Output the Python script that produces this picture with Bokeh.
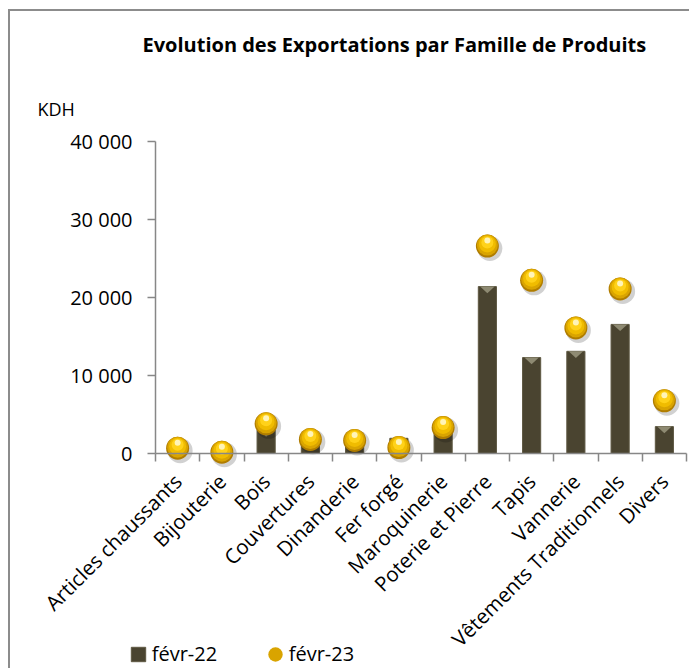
import math
from bokeh.plotting import figure
from bokeh.models import Range1d, FixedTicker, Legend, LegendItem, ColumnDataSource, Label
from bokeh.embed import file_html
from bokeh.resources import INLINE

# ---------------- data ----------------
categories = ["Articles chaussants", "Bijouterie", "Bois", "Couvertures", "Dinanderie",
              "Fer forgé", "Maroquinerie", "Poterie et Pierre", "Tapis", "Vannerie",
              "Vêtements Traditionnels", "Divers"]
feb22 = [400, 30, 3000, 1200, 1250, 1950, 2900, 21400, 12300, 13100, 16550, 3450]
feb23 = [680, 170, 3800, 1800, 1670, 770, 3330, 26600, 22200, 16100, 21100, 6760]
series_names = ["févr-22", "févr-23"]
y_ticks = [0, 10000, 20000, 30000, 40000]
y_tick_labels = ["0", "10 000", "20 000", "30 000", "40 000"]
title_text = "Evolution des Exportations par Famille de Produits"
unit_text = "KDH"

# ---------------- layout (page pixels) ----------------
W, H = 681, 659
CANVAS_X0, CANVAS_Y0 = 10, 11          # page position of the canvas
PLOT_L, PLOT_R = 155, 686              # category axis extent
PLOT_T, PLOT_B = 141, 453              # value axis extent
n = len(categories)
X_PX = (PLOT_R - PLOT_L) / n
Y_PX = (PLOT_B - PLOT_T) / (y_ticks[-1] - y_ticks[0])


def px_to_x(px):
    return -0.5 + (px - PLOT_L) / X_PX


def py_to_y(py):
    return y_ticks[0] + (PLOT_B - py) / Y_PX


FONT = "Open Sans"
AXIS_GREY = "#878787"

xs = list(range(n))
src = ColumnDataSource(dict(x=xs, cat=categories, v22=feb22, v23=feb23))

# the frame covers the whole canvas; axes are pinned at fixed locations
p = figure(width=W, height=H,
           x_range=Range1d(px_to_x(CANVAS_X0), px_to_x(CANVAS_X0 + W)),
           y_range=Range1d(py_to_y(CANVAS_Y0 + H), py_to_y(CANVAS_Y0)),
           output_backend="svg", toolbar_location=None,
           min_border_left=0, min_border_right=0,
           min_border_top=0, min_border_bottom=0)
p.styles = {"border-left": "2px solid #8c8c8c", "border-top": "2px solid #8c8c8c",
            "margin-top": "9px", "margin-left": "8px"}
p.outline_line_color = None
p.xgrid.visible = False
p.ygrid.visible = False
p.background_fill_color = "white"
p.border_fill_color = "white"

# x axis: labels at category centres, ticks at boundaries
xa = p.xaxis[0]
xa.fixed_location = y_ticks[0]
xa.bounds = (-0.5, n - 0.5)
xa.ticker = FixedTicker(ticks=xs, minor_ticks=[i - 0.5 for i in range(n + 1)])
xa.major_label_overrides = {i: c for i, c in enumerate(categories)}
xa.major_label_orientation = math.pi / 4
xa.major_tick_out = 0
xa.major_tick_in = 0
xa.major_tick_line_color = None
xa.minor_tick_out = 8
xa.minor_tick_in = 0
xa.minor_tick_line_color = AXIS_GREY
xa.minor_tick_line_width = 1.5
xa.axis_line_color = AXIS_GREY
xa.axis_line_width = 1.5
xa.major_label_text_font = FONT
xa.major_label_text_font_size = "20.5px"
xa.major_label_text_color = "#000000"
xa.major_label_standoff = 16

ya = p.yaxis[0]
ya.fixed_location = -0.5
ya.bounds = (y_ticks[0], y_ticks[-1])
ya.ticker = FixedTicker(ticks=y_ticks, minor_ticks=[])
ya.major_label_overrides = dict(zip(y_ticks, y_tick_labels))
ya.major_tick_out = 8
ya.major_tick_in = 0
ya.minor_tick_out = 0
ya.minor_tick_in = 0
ya.major_tick_line_color = AXIS_GREY
ya.major_tick_line_width = 1.5
ya.axis_line_color = AXIS_GREY
ya.axis_line_width = 1.5
ya.major_label_text_font = FONT
ya.major_label_text_font_size = "20px"
ya.major_label_text_color = "#000000"
ya.major_label_standoff = 15

# ---------------- bars (févr-22) ----------------
BW = 0.41
bars = p.vbar(x="x", top="v22", width=BW, source=src,
              fill_color="#4a4430", line_color="#5e5842", line_width=1)
tri_depth = 850
tri_xs = [[x - BW / 2 * 0.8, x + BW / 2 * 0.8, x] for x in xs]
tri_ys = [[v, v, max(v - tri_depth, 0)] for v in feb22]
p.patches(tri_xs, tri_ys, fill_color="#8e8a72", line_color=None)

# ---------------- balls (févr-23): shaded sphere from stacked discs ----------------
# (diameter px, shift right px, shift up px, colour, alpha)
ball_layers = [(25, 2.5, -2.5, "#000000", 0.18),
               (23, 0, 0, "#b07d00", 1.0),
               (21, 0, 1.0, "#d9a400", 1.0),
               (17, 0, 2.0, "#f0bc00", 1.0),
               (12, 0, 3.5, "#ffd21a", 1.0),
               (6, 0, 5.5, "#fff4b8", 1.0)]
ball_main = None
for size, dx, dy, col, alpha in ball_layers:
    lsrc = ColumnDataSource(dict(x=[x + dx / X_PX for x in xs],
                                 y=[v + dy / Y_PX for v in feb23]))
    r = p.ellipse(x="x", y="y", width=size, height=size,
                  width_units="screen", height_units="screen",
                  source=lsrc, fill_color=col, fill_alpha=alpha, line_color=None)
    if col == "#d9a400":
        ball_main = r

# ---------------- texts ----------------
p.add_layout(Label(x=px_to_x(142), y=py_to_y(44), text=title_text,
                   text_align="left", text_baseline="alphabetic",
                   text_font=FONT, text_font_style="bold", text_font_size="20px",
                   text_color="#000000"))
p.add_layout(Label(x=px_to_x(37), y=py_to_y(108), text=unit_text,
                   text_align="left", text_baseline="alphabetic",
                   text_font=FONT, text_font_size="18px", text_color="#000000"))

# ---------------- legend ----------------
LEG_LEFT, LEG_BOTTOM = 128.7, 667.2
legend = Legend(items=[LegendItem(label=series_names[0], renderers=[bars]),
                       LegendItem(label=series_names[1], renderers=[ball_main])],
                orientation="horizontal",
                location=(LEG_LEFT - CANVAS_X0, CANVAS_Y0 + H - LEG_BOTTOM),
                glyph_width=18, glyph_height=18, label_standoff=5, label_width=114,
                spacing=0, padding=0, margin=0,
                border_line_color=None, background_fill_alpha=0,
                label_text_font=FONT, label_text_font_size="20px",
                label_text_color="#000000")
p.add_layout(legend)

open("out.html", "w").write(file_html(p, INLINE))
